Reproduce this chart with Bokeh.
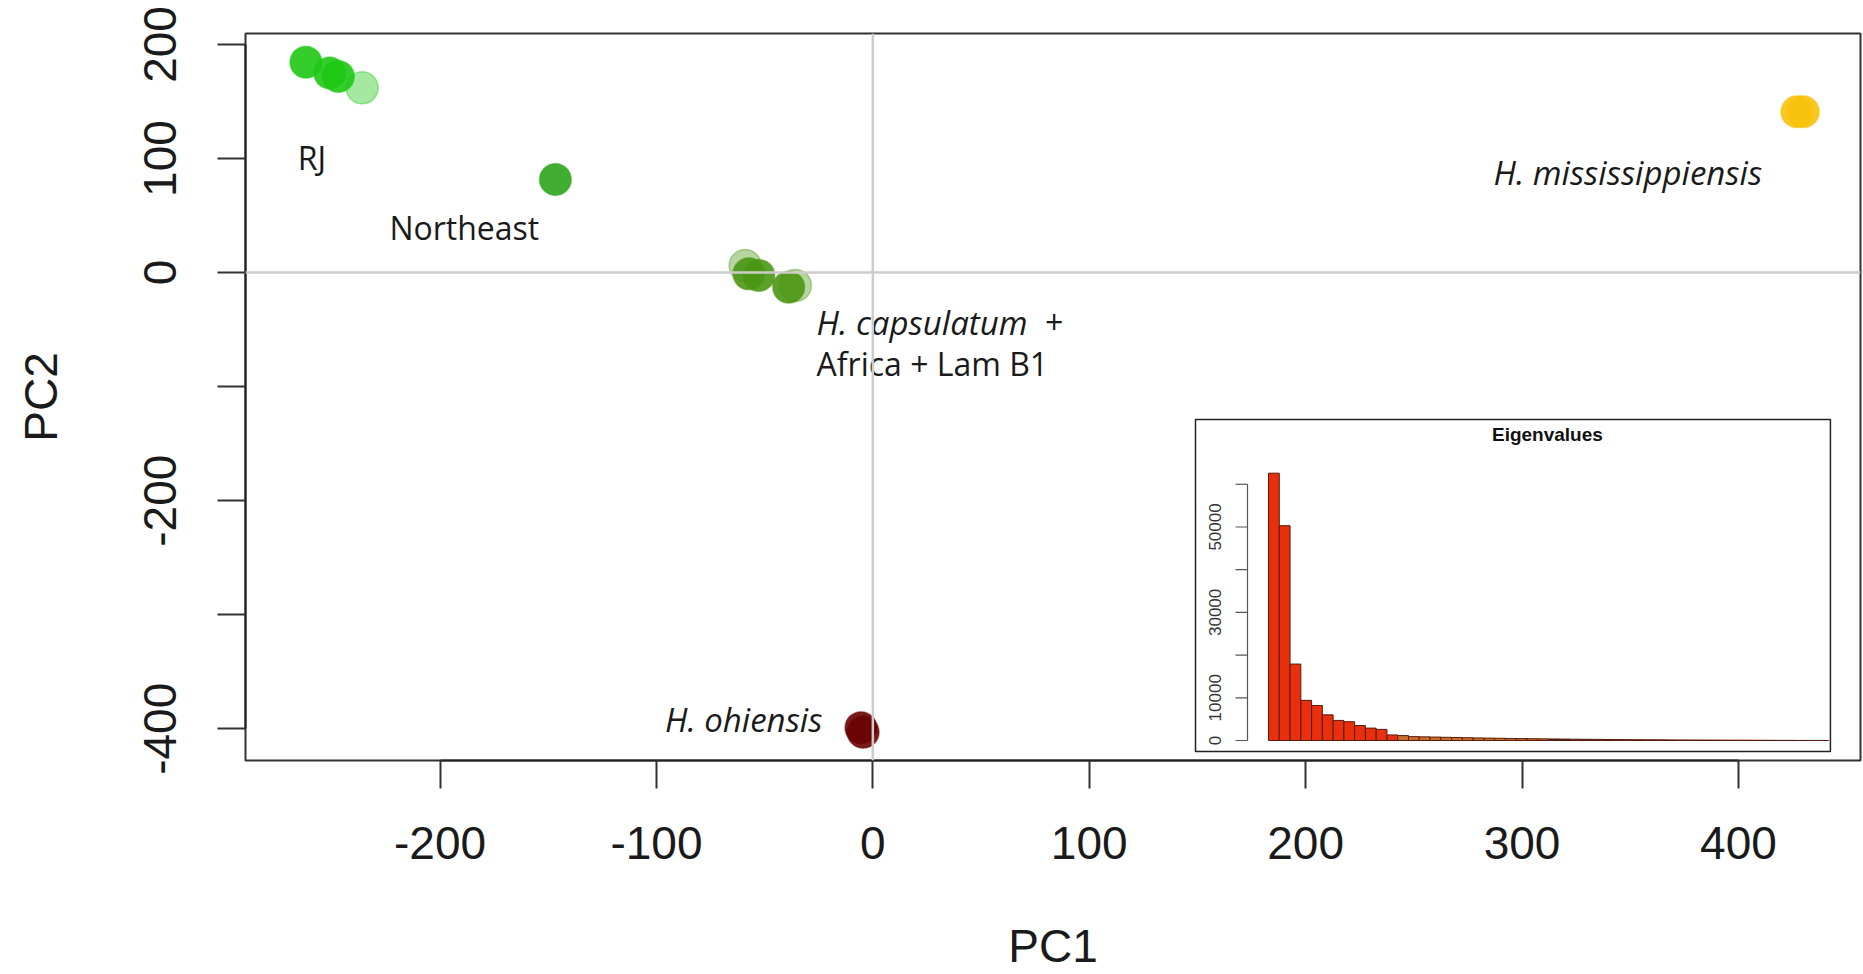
import math
from bokeh.plotting import figure
from bokeh.models import Range1d, Span, FixedTicker, ColumnDataSource
from bokeh.core.properties import value
from bokeh.embed import file_html
from bokeh.resources import INLINE

# ---------------- data ----------------
pc1 = [-262.0, -251.0, -247.0, -236.0, -146.7, -59.0, -57.3, -52.7, -38.9, -35.8, -5.5, -4.5, 427.0, 430.0]
pc2 = [184.5, 175.0, 172.0, 162.0, 81.6, 6.2, -1.1, -2.5, -12.8, -11.3, -399.0, -403.0, 141.0, 141.0]
group = ["RJ", "RJ", "RJ", "RJ", "Northeast",
         "capsulatum", "capsulatum", "capsulatum", "capsulatum", "capsulatum",
         "ohiensis", "ohiensis", "mississippiensis", "mississippiensis"]
faint = [False, False, False, True, False, True, False, False, False, True, False, False, False, False]

x_ticks = [-200, -100, 0, 100, 200, 300, 400]
x_tick_labels = ["-200", "-100", "0", "100", "200", "300", "400"]
y_ticks = [-400, -300, -200, -100, 0, 100, 200]
y_tick_labels = ["-400", "", "-200", "", "0", "100", "200"]

eigenvalues = [62600, 50300, 17900, 9400, 8200, 6000, 4700, 4400, 3500, 2900, 2600, 1300,
               1150, 900, 850, 800, 750, 700, 650, 600, 560, 520, 480, 450, 420, 390,
               360, 330, 300, 280, 260, 240, 220, 200, 185, 170, 155, 140, 125, 110,
               100, 90, 80, 70, 60, 50, 40, 30, 20, 10, 5, 2]
eig_ticks = [0, 10000, 20000, 30000, 40000, 50000, 60000]
eig_tick_labels = ["0", "10000", "", "30000", "", "50000", ""]

labels = ["RJ", "Northeast", "H. capsulatum", "+", "Africa + Lam B1", "H. ohiensis", "H. mississippiensis"]
label_x = [-265.7, -223.4, -26.0, 79.5, -26.0, -23.3, 286.8]
label_y = [100.9, 39.1, -43.7, -43.7, -80.1, -392.2, 87.8]
label_italic = [False, False, True, False, False, True, True]
label_align = ["left", "left", "left", "left", "left", "right", "left"]

# ---------------- styles ----------------
group_color = {
    "RJ": "#1ec814",
    "Northeast": "#2ca41c",
    "capsulatum": "#4b9614",
    "ohiensis": "#690202",
    "mississippiensis": "#f8c10a",
}
AXIS_FONT = "Liberation Sans"
LABEL_FONT = "Open Sans"

p = figure(width=1863, height=974,
           x_range=Range1d(-289.9, 456.4), y_range=Range1d(-427.8, 209.6),
           output_backend="svg", toolbar_location=None,
           min_border_left=245, min_border_right=3, min_border_top=33, min_border_bottom=214)
p.background_fill_color = "white"
p.border_fill_color = "white"
p.xgrid.visible = False
p.ygrid.visible = False
p.outline_line_color = "#333333"
p.outline_line_width = 2

for ax, ticks, tlabels in ((p.xaxis[0], x_ticks, x_tick_labels), (p.yaxis[0], y_ticks, y_tick_labels)):
    ax.ticker = FixedTicker(ticks=ticks)
    ax.major_label_overrides = {t: l for t, l in zip(ticks, tlabels)}
    ax.minor_tick_line_color = None
    ax.major_tick_out = 28
    ax.major_tick_in = 0
    ax.major_tick_line_width = 2
    ax.major_tick_line_color = "#333333"
    ax.axis_line_color = "#222222"
    ax.axis_line_width = 2
    ax.bounds = (ticks[0], ticks[-1])
    ax.major_label_text_font = AXIS_FONT
    ax.major_label_text_font_size = "46px"
    ax.major_label_text_color = "#1a1a1a"
    ax.axis_label_text_font = AXIS_FONT
    ax.axis_label_text_font_size = "46px"
    ax.axis_label_text_font_style = "normal"
    ax.axis_label_text_color = "#1a1a1a"

p.xaxis.axis_label = "PC1"
p.xaxis.major_label_standoff = 38
p.xaxis.axis_label_standoff = 58
p.yaxis.axis_label = "PC2"
p.yaxis.major_label_orientation = "vertical"
p.yaxis.major_label_standoff = 41
p.yaxis.axis_label_standoff = 75

# points
fill_alpha = [0.4 if f else 0.9 for f in faint]
colors = [group_color[g] for g in group]
src = ColumnDataSource(dict(x=pc1, y=pc2, c=colors, a=fill_alpha))
p.scatter("x", "y", source=src, size=32, fill_color="c", fill_alpha="a",
          line_color="c", line_alpha=0.4, line_width=1.5)

# reference lines
p.add_layout(Span(location=0, dimension="height", line_color="#cccccc", line_width=2.5))
p.add_layout(Span(location=0, dimension="width", line_color="#cccccc", line_width=2.5))

# text labels
for t, x, y, it, al in zip(labels, label_x, label_y, label_italic, label_align):
    p.text(x=[x], y=[y], text=[t], text_font=value(LABEL_FONT),
           text_font_size="33px" if it else "32px",
           text_font_style="italic" if it else "normal", text_align=al,
           text_baseline="middle", text_color="#1a1a1a")

# ---------------- eigenvalue inset ----------------
ix0, ix1, iy0, iy1 = -6.28, 52.68, -2576, 75176
inset = p.subplot(x_source=Range1d(ix0, ix1), y_source=Range1d(iy0, iy1),
                  x_target=Range1d(149.1, 442.5), y_target=Range1d(-419.9, -128.8))
inset.quad(left=[ix0], right=[ix1], bottom=[iy0], top=[iy1],
           fill_color="white", line_color="#222222", line_width=1.5)

eig_idx = list(range(1, len(eigenvalues) + 1))
bar_colors = []
for i in eig_idx:
    if i <= 12:
        bar_colors.append("#e8300e")
    elif i <= 26:
        bar_colors.append("#c8702a")
    elif i <= 32:
        bar_colors.append("#333333")
    else:
        bar_colors.append("#9a9a9a")
inset.vbar(x=eig_idx, top=eigenvalues, bottom=0, width=1, fill_color=bar_colors,
           line_color="#5a1a0a", line_width=1)

ax_x, tick_x, lab_x = -1.45, -2.56, -4.5
inset.segment(x0=[ax_x], y0=[eig_ticks[0]], x1=[ax_x], y1=[eig_ticks[-1]],
              line_color="#555555", line_width=1.2)
inset.segment(x0=[ax_x] * len(eig_ticks), y0=eig_ticks, x1=[tick_x] * len(eig_ticks), y1=eig_ticks,
              line_color="#555555", line_width=1.2)
inset.text(x=[lab_x] * len(eig_ticks), y=eig_ticks, text=eig_tick_labels, angle=math.pi / 2,
           text_font=value(AXIS_FONT), text_font_size="17px", text_align="center",
           text_baseline="middle", text_color="#333333")
inset.text(x=[26.4], y=[71663], text=["Eigenvalues"], text_font=value(AXIS_FONT),
           text_font_size="19px", text_font_style="bold", text_align="center",
           text_baseline="middle", text_color="#111111")

open("out.html", "w").write(file_html(p, INLINE))
